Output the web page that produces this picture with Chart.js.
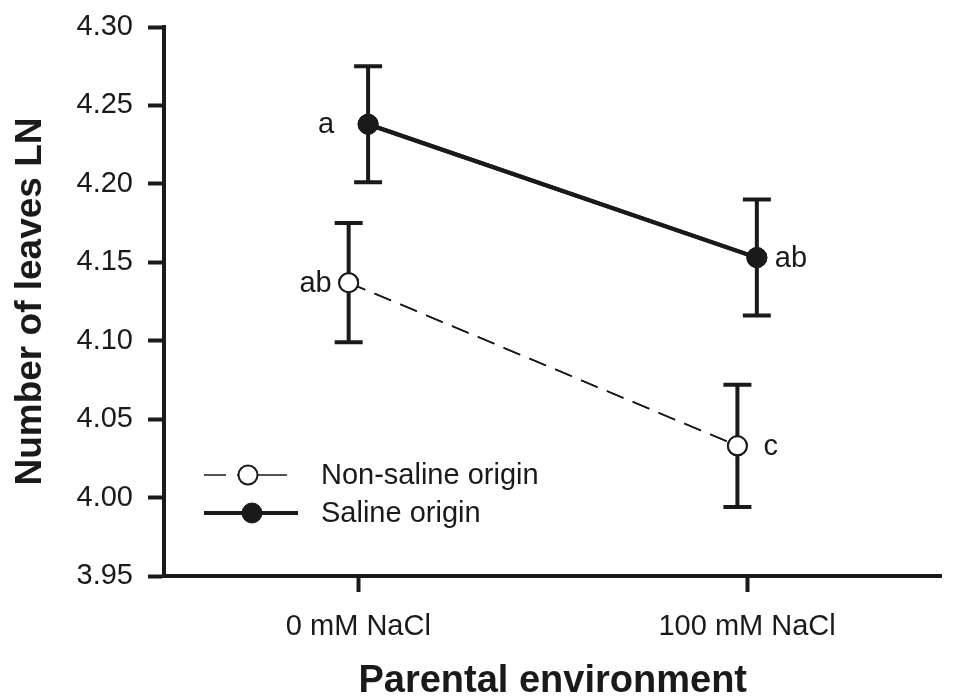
<!DOCTYPE html>
<html>
<head>
<meta charset="utf-8">
<script src="https://cdn.jsdelivr.net/npm/chart.js@4.4.1/dist/chart.umd.min.js"></script>
<style>
  html, body { margin: 0; padding: 0; background: #fff; overflow: hidden; }
  #wrap { width: 953px; height: 700px; position: relative; }
  canvas { display: block; }
</style>
</head>
<body>
<div id="wrap"><canvas id="myChart"></canvas></div>
<script>
// data
const categories = ['0 mM NaCl', '100 mM NaCl'];
const seriesNames = ['Non-saline origin', 'Saline origin'];
const nonSaline = [4.137, 4.033];
const nonSalineErr = [0.038, 0.039];
const saline = [4.238, 4.153];
const salineErr = [0.037, 0.037];
const nonSalineLetters = ['ab', 'c'];
const salineLetters = ['a', 'ab'];
const yTicks = [3.95, 4.00, 4.05, 4.10, 4.15, 4.20, 4.25, 4.30];
const offset = 0.025; // points are nudged apart on each category

const font = '"Liberation Sans", Arial, sans-serif';
const ink = '#1a1a1a';

const pts = (vals, shift) => vals.map((v, i) => ({ x: i + shift, y: v }));

// error bars, letters and the legend
const extras = {
  id: 'extras',
  afterDatasetsDraw(chart) {
    const ctx = chart.ctx;
    const xs = chart.scales.x, ys = chart.scales.y;
    const groups = [
      { err: nonSalineErr, ds: 0, letters: nonSalineLetters, gap: [-17, 26] },
      { err: salineErr, ds: 1, letters: salineLetters, gap: [-34, 18] }
    ];
    ctx.save();
    ctx.strokeStyle = ink;
    ctx.lineWidth = 4;
    groups.forEach(g => {
      chart.data.datasets[g.ds].data.forEach((p, i) => {
        const px = xs.getPixelForValue(p.x);
        const top = ys.getPixelForValue(p.y + g.err[i]);
        const bot = ys.getPixelForValue(p.y - g.err[i]);
        ctx.beginPath();
        ctx.moveTo(px, top); ctx.lineTo(px, bot);
        ctx.moveTo(px - 14, top); ctx.lineTo(px + 14, top);
        ctx.moveTo(px - 14, bot); ctx.lineTo(px + 14, bot);
        ctx.stroke();
      });
    });
    ctx.restore();
    // markers back on top of the bars
    chart.getSortedVisibleDatasetMetas().forEach(m => m.controller.draw());

    ctx.save();
    ctx.fillStyle = ink;
    ctx.font = '29px ' + font;
    ctx.textBaseline = 'middle';
    groups.forEach(g => {
      chart.data.datasets[g.ds].data.forEach((p, i) => {
        const px = xs.getPixelForValue(p.x);
        const py = ys.getPixelForValue(p.y);
        ctx.textAlign = g.gap[i] < 0 ? 'right' : 'left';
        ctx.fillText(g.letters[i], px + g.gap[i], py + 1);
      });
    });

    // legend
    const lx = 204, rows = [475, 513];
    chart.data.datasets.forEach((ds, k) => {
      const y = rows[k];
      const cx = k === 0 ? lx + 44 : lx + 48;
      ctx.strokeStyle = ink;
      ctx.setLineDash([]);
      ctx.beginPath();
      if (k === 0) {
        ctx.lineWidth = 1.5;
        ctx.moveTo(lx, y); ctx.lineTo(lx + 22, y);
        ctx.moveTo(lx + 33, y); ctx.lineTo(lx + 36, y);
        ctx.moveTo(lx + 54, y); ctx.lineTo(lx + 83, y);
      } else {
        ctx.lineWidth = ds.borderWidth;
        ctx.moveTo(lx, y); ctx.lineTo(lx + 94, y);
      }
      ctx.stroke();
      ctx.beginPath();
      ctx.arc(cx, y, ds.pointRadius, 0, Math.PI * 2);
      ctx.fillStyle = ds.pointBackgroundColor;
      ctx.fill();
      ctx.lineWidth = ds.pointBorderWidth;
      ctx.stroke();
      ctx.fillStyle = ink;
      ctx.textAlign = 'left';
      ctx.fillText(seriesNames[k], 321, y + 1);
    });
    ctx.restore();
  }
};

new Chart(document.getElementById('myChart'), {
  type: 'scatter',
  data: {
    datasets: [{
      label: seriesNames[0],
      data: pts(nonSaline, -offset),
      showLine: true,
      borderColor: ink,
      borderWidth: 1.6,
      borderDash: [18, 10],
      pointRadius: 9.5,
      pointBackgroundColor: '#ffffff',
      pointBorderColor: ink,
      pointBorderWidth: 2
    }, {
      label: seriesNames[1],
      data: pts(saline, offset),
      showLine: true,
      borderColor: ink,
      borderWidth: 4,
      pointRadius: 10,
      pointBackgroundColor: ink,
      pointBorderColor: ink,
      pointBorderWidth: 1
    }]
  },
  options: {
    responsive: true,
    maintainAspectRatio: false,
    animation: false,
    layout: { padding: { top: 27, right: 5, left: 7, bottom: 0 } },
    plugins: { legend: { display: false }, tooltip: { enabled: false } },
    scales: {
      x: {
        type: 'linear',
        min: -0.5,
        max: 1.5,
        afterBuildTicks: s => { s.ticks = categories.map((c, i) => ({ value: i })); },
        afterFit: s => { s.height = 124; s.paddingLeft = 0; s.paddingRight = 0; },
        border: { color: ink, width: 4 },
        grid: { drawOnChartArea: false, color: ink, tickLength: 16, tickWidth: 4 },
        ticks: {
          color: ink,
          padding: 18,
          maxRotation: 0,
          font: { family: font, size: 29 },
          callback: v => categories[v]
        },
        title: {
          display: true,
          text: 'Parental environment',
          color: ink,
          font: { family: font, size: 38, weight: 'bold' },
          padding: { top: 4, bottom: -4 }
        }
      },
      y: {
        min: 3.95,
        max: 4.30,
        afterBuildTicks: s => { s.ticks = yTicks.map(v => ({ value: v })); },
        afterFit: s => { s.width = 157; s.paddingTop = 0; s.paddingBottom = 0; },
        border: { color: ink, width: 4 },
        grid: { drawOnChartArea: false, color: ink, tickLength: 16, tickWidth: 4 },
        ticks: {
          color: ink,
          padding: 15,
          font: { family: font, size: 29 },
          callback: v => v.toFixed(2)
        },
        title: {
          display: true,
          text: 'Number of leaves LN',
          color: ink,
          font: { family: font, size: 37, weight: 'bold' },
          padding: { top: 2, bottom: 0 }
        }
      }
    }
  },
  plugins: [extras]
});
</script>
</body>
</html>
